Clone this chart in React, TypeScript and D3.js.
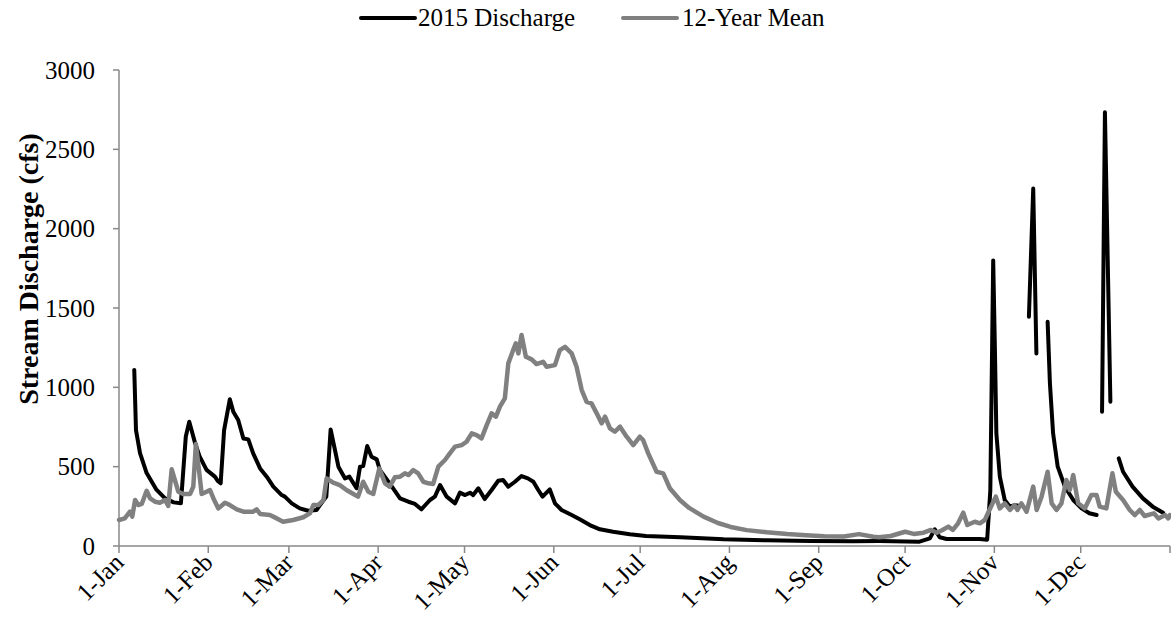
import * as d3 from "d3";

// day of year (0 = 1-Jan) and discharge in cfs, null = missing record
const dischargeDay = [
  5.3, 5.9, 7.3, 9.6, 13, 16, 19, 21.5, 23.2, 24.4, 26.4, 28, 30.4, 33.3, 34.3, 35.3, 36.5, 38.5, 39.7, 41.4,
  43.2, 44.9, 46.6, 49, 51.3, 53.6, 56.5, 57.6, 60, 62.8, 65.7, 68.6, 69.8, 72, 73.5, 75, 76.2, 78.5, 80, 82.5,
  83.7, 84.8, 86.2, 87.7, 89.5, 90.6, 94, 97.6, 100.5, 102.8, 105, 108, 109.7, 111.5, 113.8, 116.7, 118.4, 120.2,
  121.9, 123, 124.8, 127, 129.4, 131.7, 133.4, 135.2, 137.5, 139.8, 142, 143.9, 145.6, 147.1, 149.6, 151.4, 153.7,
  157.2, 160, 163.5, 167, 171.6, 177.4, 183, 195, 210, 225, 240, 255, 264, 278, 281.6, 283.3, 285, 287.4, 299,
  301.5, 302.6, 303.6, 304.2, 304.7, 305.9, 307.6, 309.4, 311, 312.8, 314,
  316, 317.5, 318.6, 320,
  322.5, 323.3, 324.4, 326, 328.5, 331.4, 334.3, 337, 339.5, 340.5,
  341.4, 342.4, 344.3, 345.5,
  347.2, 348.7, 352, 355.6, 359, 362.6,
];
const dischargeCfs: (number | null)[] = [
  1110, 730, 585, 460, 355, 300, 275, 270, 690, 783, 650, 565, 480, 437, 410, 395, 730, 925, 846, 794,
  678, 672, 584, 489, 437, 374, 321, 311, 269, 237, 222, 227, 258, 311, 735, 605, 500, 426, 437, 364,
  500, 504, 630, 563, 546, 479, 395, 300, 279, 265, 231, 290, 311, 384, 311, 269, 336, 321,
  336, 321, 364, 296, 353, 411, 416, 374, 405, 441, 426, 405, 353, 311, 357, 269, 227,
  195, 168, 132, 105, 90, 74, 63, 55, 42, 36, 32, 30, 31, 27, 48, 105, 55, 44, 44,
  40, 350, 1800, 1235, 710, 437, 290, 248, 258, 252, null,
  1445, 2253, 1214, null,
  1413, 1025, 710, 500, 374, 290, 237, 206, 195, null,
  846, 2734, 909, null,
  552, 468, 374, 300, 248, 210,
];

const meanDay = [
  0, 2, 3.8, 4.6, 5.6, 6.7, 7.9, 9.6, 10.8, 12.5, 14.2, 16, 17.1, 18.3, 19.4, 20.6, 22.3, 24.7, 25.8, 26.7,
  27.9, 28.7, 30.4, 31.6, 32.8, 34.5, 36.8, 38.5, 40.9, 43.2, 46.6, 47.8, 49, 52.4, 54.8, 57, 60.5, 64, 66.3,
  67.5, 69.2, 71, 72.1, 74.4, 76.7, 79, 81.4, 83, 84.8, 86.6, 88.3, 90.4, 92.4, 94, 95.8, 97.6, 99.3, 100.5,
  102.2, 103.9, 105.7, 107.4, 109.1, 110.9, 113.2, 114.9, 116.7, 119, 120.7, 122.5, 124.2, 125.9, 127.7, 129.4,
  130.9, 132.3, 134, 135.2, 136.9, 137.8, 138.7, 139.8, 141.3, 143.3, 145, 147.3, 148.5, 151.4, 153.1, 154.9,
  157.2, 158.9, 160.7, 162.4, 164.1, 165.9, 167.6, 168.8, 170.5, 172.2, 174, 176.3, 178.6, 180.9, 182, 183.8,
  186.7, 189, 191.3, 194.8, 198, 203, 208, 212.4, 218, 225, 232, 238.5, 245, 251.7, 257, 262, 264, 268, 273,
  276, 279.4, 282, 284, 286, 288, 289.6, 291.4, 293.2, 294.6, 297.2, 299, 300.7, 302, 304.5, 305.9, 307.6,
  309.4, 311, 312, 313.4, 315.2, 317.5, 318.7, 320.4, 322.5, 323.9, 325.6, 327.3, 329, 330.2, 331.4, 333.1,
  335.4, 337.7, 339.5, 340.6, 342.9, 345, 346.2, 348.7, 351, 352.8, 354.5, 356.2, 359.4, 361, 363.3, 364.4, 365,
];
const meanCfs = [
  164, 174, 216, 185, 290, 258, 265, 348, 300, 279, 273, 290, 252, 483, 416, 342, 328, 328, 374, 643,
  458, 328, 342, 353, 300, 237, 273, 258, 231, 216, 216, 231, 202, 195, 174, 153, 164, 181, 206,
  258, 258, 290, 426, 399, 384, 353, 328, 311, 405, 342, 328, 489, 395, 374, 433, 437, 458, 447,
  479, 458, 405, 395, 391, 500, 542, 584, 626, 636, 657, 710, 699, 678, 762, 836,
  815, 878, 930, 1151, 1235, 1277, 1214, 1330, 1193, 1176, 1147, 1161, 1130, 1140, 1235, 1255,
  1214, 1130, 983, 909, 899, 836, 773, 815, 741, 720, 752, 689, 636, 689, 668, 584,
  468, 458, 364, 290, 240, 185, 145, 120, 100, 86, 75, 68, 62, 60, 75, 58, 55, 63, 90,
  76, 84, 101, 84, 101, 122, 101, 143, 210, 132, 153, 143, 164, 216, 311, 237, 269,
  227, 258, 227, 269, 216, 374, 227, 311, 468, 269, 227, 269, 416, 353, 447, 269,
  237, 321, 321, 248, 237, 458, 342, 290, 227, 195, 227, 189, 206, 174, 195, 174, 195,
];

const monthLabels = ["1-Jan", "1-Feb", "1-Mar", "1-Apr", "1-May", "1-Jun", "1-Jul", "1-Aug", "1-Sep", "1-Oct", "1-Nov", "1-Dec"];
const monthStartDays = [0, 31, 59, 90, 120, 151, 181, 212, 243, 273, 304, 334, 365];
const yTicks = [0, 500, 1000, 1500, 2000, 2500, 3000];

const WIDTH = 1171;
const HEIGHT = 627;
const MARGIN = { top: 70, right: 1, bottom: 81, left: 119 };
const AXIS = "#898989";
const FONT = "'Liberation Serif', 'Times New Roman', serif";

export default function App() {
  const x = d3.scaleLinear().domain([0, 365]).range([MARGIN.left, WIDTH - MARGIN.right]);
  const y = d3.scaleLinear().domain([0, 3000]).range([HEIGHT - MARGIN.bottom, MARGIN.top]);

  const discharge = dischargeDay.map((d, i) => ({ day: d, v: dischargeCfs[i] }));
  const mean = meanDay.map((d, i) => ({ day: d, v: meanCfs[i] as number | null }));

  const line = d3
    .line<{ day: number; v: number | null }>()
    .defined((d) => d.v !== null)
    .x((d) => x(d.day))
    .y((d) => y(d.v as number));

  const y0 = y(0);

  return (
    <svg width={WIDTH} height={HEIGHT} style={{ position: "absolute", left: 0, top: 0 }} fontFamily={FONT}>
      <rect width={WIDTH} height={HEIGHT} fill="white" />

      {/* legend */}
      <g>
        <line x1={361} x2={415} y1={18} y2={18} stroke="black" strokeWidth={4} strokeLinecap="round" />
        <text x={418} y={26} fontSize={25}>2015 Discharge</text>
        <line x1={623} x2={677} y1={18} y2={18} stroke="#808080" strokeWidth={4} strokeLinecap="round" />
        <text x={682} y={26} fontSize={25}>12-Year Mean</text>
      </g>

      {/* y axis */}
      <line x1={x(0)} x2={x(0)} y1={y(3000)} y2={y0} stroke={AXIS} strokeWidth={1.5} />
      {yTicks.map((t) => (
        <g key={t}>
          <line x1={x(0) - 6} x2={x(0)} y1={y(t)} y2={y(t)} stroke={AXIS} strokeWidth={1.5} />
          <text x={x(0) - 24} y={y(t)} dy="0.35em" textAnchor="end" fontSize={25}>{t}</text>
        </g>
      ))}
      <text
        transform={`translate(38, ${(y(0) + y(3000)) / 2 - 39}) rotate(-90)`}
        textAnchor="middle"
        fontSize={28}
        fontWeight="bold"
      >
        Stream Discharge (cfs)
      </text>

      {/* x axis */}
      <line x1={x(0)} x2={x(365)} y1={y0} y2={y0} stroke={AXIS} strokeWidth={1.5} />
      {monthStartDays.map((d) => (
        <line key={d} x1={x(d)} x2={x(d)} y1={y0} y2={y0 + 7} stroke={AXIS} strokeWidth={1.5} />
      ))}
      {monthLabels.map((m, i) => (
        <text
          key={m}
          transform={`translate(${x(monthStartDays[i]) + 6}, ${y0 + 18}) rotate(-45)`}
          textAnchor="end"
          fontSize={25}
        >
          {m}
        </text>
      ))}

      {/* series */}
      <path d={line(discharge) ?? ""} fill="none" stroke="black" strokeWidth={4} strokeLinejoin="round" strokeLinecap="round" />
      <path d={line(mean) ?? ""} fill="none" stroke="#808080" strokeWidth={4.5} strokeLinejoin="round" strokeLinecap="round" />
    </svg>
  );
}
